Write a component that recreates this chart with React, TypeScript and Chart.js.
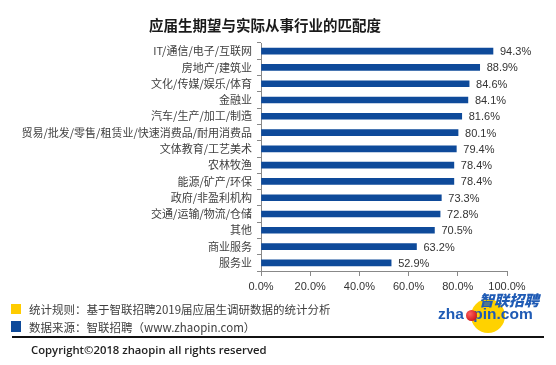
import React, { useEffect, useRef } from "react";
import { Chart, registerables } from "chart.js";

Chart.register(...registerables);

const title = "应届生期望与实际从事行业的匹配度";
const categories = [
  "IT/通信/电子/互联网",
  "房地产/建筑业",
  "文化/传媒/娱乐/体育",
  "金融业",
  "汽车/生产/加工/制造",
  "贸易/批发/零售/租赁业/快速消费品/耐用消费品",
  "文体教育/工艺美术",
  "农林牧渔",
  "能源/矿产/环保",
  "政府/非盈利机构",
  "交通/运输/物流/仓储",
  "其他",
  "商业服务",
  "服务业",
];
const values = [94.3, 88.9, 84.6, 84.1, 81.6, 80.1, 79.4, 78.4, 78.4, 73.3, 72.8, 70.5, 63.2, 52.9];
const xMin = 0;
const xMax = 100;
const xStep = 20;
const note1 = "统计规则：基于智联招聘2019届应届生调研数据的统计分析";
const note2 = "数据来源：智联招聘（www.zhaopin.com）";
const copyright = "Copyright©2018 zhaopin all rights reserved";

const BAR = "#0E4A9A";
const CJK = '"Noto Sans CJK SC", "Noto Sans", sans-serif';

const valueLabels = {
  id: "valueLabels",
  afterDatasetsDraw(chart: any) {
    const ctx = chart.ctx;
    const meta = chart.getDatasetMeta(0);
    ctx.save();
    ctx.font = '11px "Liberation Sans", Arial, sans-serif';
    ctx.fillStyle = "#333333";
    ctx.textAlign = "left";
    ctx.textBaseline = "middle";
    meta.data.forEach((bar: any, i: number) => {
      const v = chart.data.datasets[0].data[i];
      ctx.fillText(v.toFixed(1) + "%", bar.x + 7, bar.y + 1);
    });
    ctx.restore();
  },
};

function BarChart() {
  const ref = useRef<HTMLCanvasElement | null>(null);
  useEffect(() => {
    if (!ref.current) return;
    const chart = new Chart(ref.current, {
      type: "bar",
      data: {
        labels: categories,
        datasets: [
          {
            data: values,
            backgroundColor: BAR,
            barThickness: 6,
          },
        ],
      },
      options: {
        indexAxis: "y",
        animation: false,
        responsive: false,
        maintainAspectRatio: false,
        layout: { padding: { left: 0, right: 49, top: 43, bottom: 0 } },
        plugins: {
          legend: { display: false },
          tooltip: { enabled: false },
          title: { display: false },
        },
        scales: {
          x: {
            min: xMin,
            max: xMax,
            ticks: {
              stepSize: xStep,
              color: "#333333",
              font: { family: '"Liberation Sans", Arial, sans-serif', size: 11 },
              padding: 4,
              callback: (v: any) => Number(v).toFixed(1) + "%",
              maxRotation: 0,
            },
            grid: {
              drawOnChartArea: false,
              drawTicks: true,
              tickLength: 5,
              color: "#888888",
            },
            border: { display: true, color: "#888888" },
            afterFit: (s: any) => {
              s.height = 22;
            },
          },
          y: {
            ticks: {
              color: "#404040",
              font: { family: CJK, size: 11 },
              padding: 5,
              autoSkip: false,
            },
            grid: {
              drawOnChartArea: false,
              drawTicks: true,
              tickLength: 4,
              offset: true,
              color: "#888888",
            },
            border: { display: true, color: "#888888" },
            afterFit: (s: any) => {
              s.width = 261;
            },
          },
        },
      },
      plugins: [valueLabels],
    });
    return () => chart.destroy();
  }, []);
  return <canvas ref={ref} width={556} height={293} style={{ position: "absolute", left: 0, top: 0 }} />;
}

export default function App() {
  useEffect(() => {
    document.body.style.margin = "0";
  }, []);
  const txt: React.CSSProperties = {
    position: "absolute",
    fontFamily: CJK,
    fontSize: 11.5,
    color: "#404040",
    whiteSpace: "nowrap",
    lineHeight: "14px",
  };
  return (
    <div style={{ position: "absolute", left: 0, top: 0, width: 556, height: 365, background: "#fff", overflow: "hidden" }}>
      <BarChart />
      <div
        style={{
          position: "absolute",
          left: 0,
          width: 530,
          top: 15,
          textAlign: "center",
          fontFamily: CJK,
          fontWeight: 700,
          fontSize: 14.5,
          lineHeight: "20px",
          color: "#1a1a1a",
          whiteSpace: "nowrap",
        }}
      >
        {title}
      </div>
      <div style={{ position: "absolute", left: 11, top: 304, width: 10, height: 10, background: "#FFCC00" }} />
      <div style={{ position: "absolute", left: 11, top: 321, width: 10, height: 11, background: "#0E4A9A" }} />
      <div style={{ ...txt, left: 29, top: 302 }}>{note1}</div>
      <div style={{ ...txt, left: 29, top: 320 }}>{note2}</div>
      <div style={{ position: "absolute", left: 12, top: 336, width: 532, height: 2, background: "#111" }} />
      <div
        style={{
          position: "absolute",
          left: 31,
          top: 342,
          fontFamily: '"Open Sans", "Noto Sans", sans-serif',
          fontSize: 11.3,
          fontWeight: 600,
          color: "#222",
          whiteSpace: "nowrap",
          lineHeight: "16px",
        }}
      >
        {copyright}
      </div>
      {/* logo */}
      <div style={{ position: "absolute", left: 471, top: 299, width: 34, height: 34, borderRadius: "50%", background: "#FFD200" }} />
      <div
        style={{
          position: "absolute",
          left: 479,
          top: 291,
          fontFamily: CJK,
          fontWeight: 900,
          fontStyle: "italic",
          fontSize: 15,
          lineHeight: "18px",
          color: "#1F5BB5",
          whiteSpace: "nowrap",
        }}
      >
        智联招聘
      </div>
      <div
        style={{
          position: "absolute",
          left: 438,
          top: 305,
          fontFamily: '"Liberation Sans", Arial, sans-serif',
          fontWeight: 700,
          fontSize: 15.5,
          lineHeight: "18px",
          color: "#1F5BB5",
          whiteSpace: "nowrap",
        }}
      >
        zha<span style={{ color: "transparent" }}>o</span>pin.com
      </div>
      <div style={{ position: "absolute", left: 466, top: 310, width: 11, height: 11, borderRadius: "50%", background: "radial-gradient(circle at 35% 35%, #ff6060, #c00000)" }} />
    </div>
  );
}
